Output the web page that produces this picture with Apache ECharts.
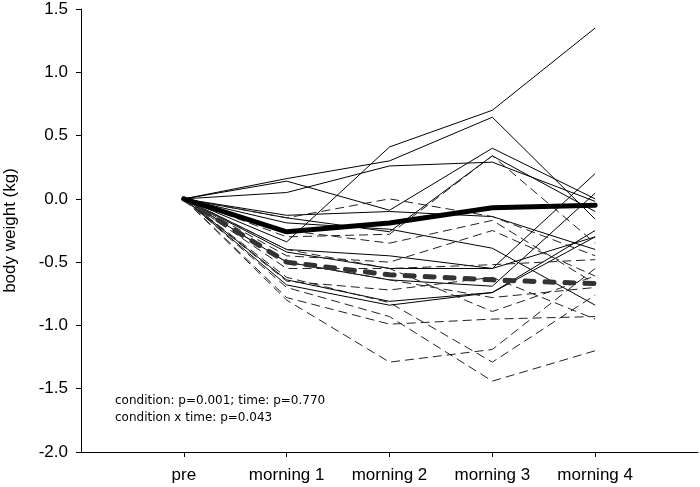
<!DOCTYPE html>
<html>
<head>
<meta charset="utf-8">
<script src="https://cdn.jsdelivr.net/npm/echarts@6/dist/echarts.min.js"></script>
<style>html,body{margin:0;padding:0;background:#fff}#c{width:700px;height:487px}</style>
</head>
<body>
<div id="c"></div>
<script>
const timepoints = ['pre', 'morning 1', 'morning 2', 'morning 3', 'morning 4'];
const yTicks = [-2.0, -1.5, -1.0, -0.5, 0.0, 0.5, 1.0, 1.5];

// individual subjects, condition 1 (solid thin lines)
const solidSubjects = [
  [0, 0.16, 0.30, 0.645, -0.16],
  [0, -0.34, 0.41, 0.70, 1.35],
  [0, 0.05, 0.26, 0.29, -0.02],
  [0, 0.14, -0.09, 0.40, 0.00],
  [0, -0.15, -0.26, 0.34, -0.10],
  [0, -0.40, -0.45, -0.55, 0.20],
  [0, -0.50, -0.64, -0.69, 0.045],
  [0, -0.64, -0.81, -0.74, -0.25],
  [0, -0.68, -0.84, -0.74, -0.30],
  [0, -0.19, -0.24, -0.39, -0.84],
  [0, -0.13, -0.10, -0.14, -0.40],
  [0, -0.42, -0.55, -0.55, -0.30]
];
// individual subjects, condition 2 (dashed thin lines)
const dashedSubjects = [
  [0, -0.15, 0.00, -0.14, -0.45],
  [0, -0.30, -0.28, 0.34, -0.35],
  [0, -0.45, -0.50, -0.25, -0.61],
  [0, -0.55, -0.55, -0.89, -0.61],
  [0, -0.78, -0.99, -0.95, -0.93],
  [0, -0.80, -1.29, -1.19, -0.55],
  [0, -0.62, -0.82, -1.29, -0.76],
  [0, -0.70, -0.93, -1.44, -1.20],
  [0, -0.40, -0.55, -0.52, -0.48],
  [0, -0.25, -0.35, -0.17, -0.67],
  [0, -0.50, -0.64, -0.78, -0.70],
  [0, -0.65, -0.72, -0.62, -0.95]
];
const meanSolid = [0, -0.26, -0.19, -0.07, -0.05];
const meanDashed = [0, -0.50, -0.60, -0.64, -0.67];
const statsLine1 = 'condition: p=0.001; time: p=0.770';
const statsLine2 = 'condition x time: p=0.043';

const toXY = arr => arr.map((v, i) => [i, v]);
const series = [];
solidSubjects.forEach(s => series.push({
  type: 'line', data: toXY(s), symbol: 'none', silent: true,
  lineStyle: { color: '#000', width: 1 }, z: 2
}));
dashedSubjects.forEach(s => series.push({
  type: 'line', data: toXY(s), symbol: 'none', silent: true,
  lineStyle: { color: '#222', width: 1, type: [9, 5] }, z: 2
}));
series.push({
  type: 'line', data: toXY(meanDashed), symbol: 'none', silent: true,
  lineStyle: { color: '#333', width: 5, type: [9, 11], cap: 'round' }, z: 3
});
series.push({
  type: 'line', data: toXY(meanSolid), symbol: 'none', silent: true,
  lineStyle: { color: '#000', width: 5, cap: 'round', join: 'round' }, z: 4
});

const chart = echarts.init(document.getElementById('c'), null, { renderer: 'canvas' });
chart.setOption({
  animation: false,
  backgroundColor: '#fff',
  grid: { left: 81, right: 2, top: 9, bottom: 35, containLabel: false, outerBoundsMode: 'none' },
  xAxis: {
    type: 'value', min: -1, max: 5, interval: 1,
    splitLine: { show: false },
    axisLine: { onZero: false, lineStyle: { color: '#000', width: 1 } },
    axisTick: { show: true, length: 5, customValues: [0, 1, 2, 3, 4], lineStyle: { color: '#000' } },
    axisLabel: {
      customValues: [0, 1, 2, 3, 4],
      formatter: v => timepoints[v] || '',
      color: '#000', fontFamily: 'Liberation Sans', fontSize: 17, margin: 15
    }
  },
  yAxis: {
    type: 'value', min: yTicks[0], max: yTicks[yTicks.length - 1], interval: 0.5,
    splitLine: { show: false },
    axisLine: { show: true, onZero: false, lineStyle: { color: '#000', width: 1 } },
    axisTick: { show: true, length: 5, lineStyle: { color: '#000' } },
    axisLabel: {
      formatter: v => Number(v).toFixed(1),
      color: '#000', fontFamily: 'Liberation Sans', fontSize: 17, margin: 13
    },
    name: 'body weight (kg)', nameLocation: 'middle', nameGap: 62,
    nameTextStyle: { color: '#000', fontFamily: 'Liberation Sans', fontSize: 17 }
  },
  graphic: [
    { type: 'text', left: 115, top: 395, silent: true,
      style: { text: statsLine1, fill: '#000', font: '12px "DejaVu Sans"' } },
    { type: 'text', left: 115, top: 412, silent: true,
      style: { text: statsLine2, fill: '#000', font: '12px "DejaVu Sans"' } }
  ],
  series: series
});
</script>
</body>
</html>
